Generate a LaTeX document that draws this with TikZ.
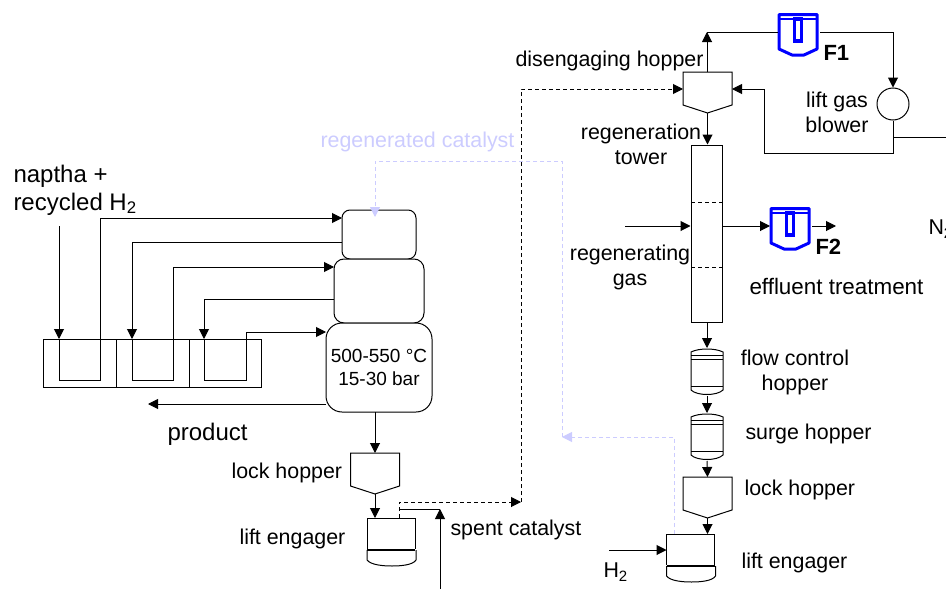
\documentclass[tikz,border=0pt]{standalone}
\usepackage{fontspec}
\setmainfont{Liberation Sans}
\usetikzlibrary{arrows.meta}

\begin{document}
\begin{tikzpicture}[
    x=1pt, y=-1pt,
    line width=1pt,
    flowline/.style={-{Triangle[length=10pt,width=10pt]}},
    spentline/.style={flowline, dash pattern=on 4pt off 3pt},
    regenline/.style={flowline, draw=regenblue, dash pattern=on 4pt off 3pt,
      -{Triangle[length=10pt,width=10pt,fill=regenblue]}},
    label/.style={font=\fontsize{21.4}{25}\selectfont, inner sep=0pt, align=center},
    feedlabel/.style={font=\fontsize{24}{28}\selectfont, inner sep=0pt, anchor=west},
    boldlabel/.style={font=\fontsize{22}{25}\selectfont\bfseries, inner sep=0pt, anchor=west},
    reactor/.style={draw, inner sep=0pt, outer sep=0pt, fill=white},
    pics/lockhopper/.style={code={
      \draw (-24.5,0) -- (24.5,0) -- (24.5,33) -- (0,41) -- (-24.5,33) -- cycle;
      \coordinate (-top) at (0,0);
      \coordinate (-tip) at (0,41);
      \coordinate (-left) at (-24.5,17);
      \coordinate (-right) at (24.5,17);
    }},
    pics/liftengager/.style={code={
      \draw (-24,31) -- (-24,0) -- (24,0) -- (24,31);
      \draw[line width=2pt] (-24,31.5) -- (24,31.5);
      \draw (-24,32) -- (-24,42) .. controls (-20,47) and (-8,48) .. (1,48)
        .. controls (10,48) and (22,47) .. (25,42) -- (25,32);
      \coordinate (-top) at (0,0);
      \coordinate (-left) at (-24,16);
    }},
    pics/vessel/.style={code={
      \draw (-16,4) .. controls (-8,0) and (8,0) .. (16,4) -- (16,42)
        .. controls (10,48) and (-10,48) .. (-16,42) -- cycle;
      \draw (-16,7) -- (16,7);
      \draw (-16,11) -- (16,11);
      \draw (-16,38) -- (16,38);
      \coordinate (-top) at (0,0);
      \coordinate (-bottom) at (0,48);
    }},
    pics/filterunit/.style={code={
      \draw[draw=filterblue, line width=3pt, line join=round]
        (-19,1.5) -- (19,1.5) -- (19,36) -- (6,42) -- (-6,42) -- (-19,36) -- cycle;
      \draw[draw=filterblue, line width=2pt] (-18,6) -- (18,6);
      \draw[draw=filterblue, line width=3.5pt] (-3.5,6) rectangle (3.5,28);
      \coordinate (-left) at (-20,19);
      \coordinate (-right) at (22,19);
    }}
  ]
    \definecolor{regenblue}{RGB}{204,204,255}
    \definecolor{filterblue}{RGB}{0,0,255}
    \useasboundingbox (0,0) rectangle (946,589);

    % Define the reactor stack
    \node[reactor, rounded corners=8pt, minimum width=74pt, minimum height=49pt] (reactorA) at (379,234.5) {};
    \node[reactor, rounded corners=10pt, minimum width=90pt, minimum height=64pt] (reactorB) at (379,291) {};
    \node[reactor, rounded corners=16pt, minimum width=106pt, minimum height=89pt, font=\fontsize{19}{23}\selectfont, align=center] (reactorC) at (379,367.5) {500-550 °C\\15-30 bar};

    % Define the furnace cells
    \node[draw, inner sep=0pt, minimum width=73pt, minimum height=48pt] (cellA) at (79.5,363) {};
    \node[draw, inner sep=0pt, minimum width=73pt, minimum height=48pt] (cellB) at (152.5,363) {};
    \node[draw, inner sep=0pt, minimum width=72pt, minimum height=48pt] (cellC) at (225,363) {};

    % Define the turning points of the coils
    \coordinate (feed) at (59,226);
    \coordinate (coilA) at (59,380);
    \coordinate (coilAb) at (100,380);
    \coordinate (coilAc) at (100,218);
    \coordinate (inA) at (reactorA.west |- coilAc);
    \coordinate (outA) at (342,242);
    \coordinate (coilB) at (132,242);
    \coordinate (coilBb) at (132,380);
    \coordinate (coilBc) at (173,380);
    \coordinate (coilBd) at (173,267);
    \coordinate (inB) at (reactorB.west |- coilBd);
    \coordinate (outB) at (334,299);
    \coordinate (coilC) at (204,299);
    \coordinate (coilCb) at (204,380);
    \coordinate (coilCc) at (246,380);
    \coordinate (coilCd) at (246,332);
    \coordinate (inC) at (326,332);
    \coordinate (prodA) at (326,404);
    \coordinate (prodB) at (148,404);

    % Draw the coils
    \draw[flowline] (feed) -- (59,339);
    \draw (59,339) -- (coilA) -- (coilAb) -- (coilAc);
    \draw[flowline] (coilAc) -- (inA);
    \draw[flowline] (outA) -- (coilB) -- (132,339);
    \draw (132,339) -- (coilBb) -- (coilBc) -- (coilBd);
    \draw[flowline] (coilBd) -- (inB);
    \draw[flowline] (outB) -- (coilC) -- (204,339);
    \draw (204,339) -- (coilCb) -- (coilCc) -- (coilCd);
    \draw[flowline] (coilCd) -- (inC);
    \draw[flowline] (prodA) -- (prodB);

    % Draw the left lift train
    \pic (lockA) at (375,453) {lockhopper};
    \pic (engageA) at (391,518) {liftengager};
    \draw[flowline] (reactorC.south -| lockA-top) -- (lockA-top);
    \draw[flowline] (lockA-tip) -- (375,518);

    % Draw the right column
    \pic (disengage) at (707.5,72) {lockhopper};
    \node[draw, inner sep=0pt, minimum width=31pt, minimum height=177pt] (tower) at (706.5,233.5) {};
    \pic (flowhopper) at (707,348) {vessel};
    \pic (surge) at (707,413) {vessel};
    \pic (lockB) at (707.5,477) {lockhopper};
    \pic (engageB) at (690.5,534) {liftengager};
    \node[draw, circle, inner sep=0pt, minimum size=32pt] (blower) at (893,104) {};
    \pic (filterA) at (798,13) {filterunit};
    \pic (filterB) at (790,207) {filterunit};

    \coordinate (dashA) at (691,202);
    \coordinate (dashB) at (691,267);
    \draw[dash pattern=on 4pt off 3pt] (dashA) -- (dashA -| tower.east);
    \draw[dash pattern=on 4pt off 3pt] (dashB) -- (dashB -| tower.east);

    \draw[flowline] (disengage-tip) -- (disengage-tip |- tower.north);
    \draw[flowline] (tower.south -| flowhopper-top) -- (flowhopper-top);
    \draw[flowline] (flowhopper-bottom) -- (surge-top);
    \draw[flowline] (surge-bottom) -- (lockB-top);
    \draw[flowline] (lockB-tip) -- (lockB-tip |- engageB-top);

    % Draw the gas loop around the blower
    \coordinate (loopA) at (707,32);
    \coordinate (loopB) at (893,32);
    \coordinate (loopC) at (893,153);
    \coordinate (loopD) at (764,153);
    \coordinate (loopE) at (764,89);
    \coordinate (nitrogen) at (946,137);
    \draw[flowline] (disengage-top -| loopA) -- (loopA);
    \draw (loopA) -- (filterA-left);
    \draw[flowline] (filterA-right) -- (loopB) -- (blower.north);
    \draw (blower.south) -- (loopC) -- (loopD) -- (loopE);
    \draw[flowline] (loopE) -- (disengage-right);
    \draw (893,137) -- (nitrogen);

    % Draw the gas lines at the tower
    \coordinate (regenIn) at (625,226);
    \coordinate (effluent) at (836,226);
    \draw[flowline] (regenIn) -- (tower.west |- regenIn);
    \draw[flowline] (tower.east |- regenIn) -- (filterB-left);
    \draw[flowline] (filterB-right) -- (effluent);
    \coordinate (hydrogen) at (609,550);
    \draw[flowline] (hydrogen) -- (engageB-left);

    % Draw the spent catalyst lines
    \coordinate (spentA) at (399,518);
    \coordinate (spentB) at (399,502);
    \coordinate (spentC) at (521,502);
    \coordinate (spentD) at (521,89);
    \draw[spentline] (spentA) -- (spentB) -- (spentC);
    \draw[spentline] (spentC) -- (spentD) -- (disengage-left |- spentD);
    \coordinate (liftIn) at (440,589);
    \coordinate (liftOut) at (440,509);
    \coordinate (liftStart) at (400,509);
    \draw[flowline] (liftIn) -- (liftOut);
    \draw (liftStart) -- (liftOut);

    % Draw the regenerated catalyst line
    \coordinate (regenA) at (674,534);
    \coordinate (regenB) at (674,437);
    \coordinate (regenC) at (562,437);
    \coordinate (regenD) at (562,161);
    \coordinate (regenE) at (375,161);
    \coordinate (regenF) at (375,217);
    \draw[regenline] (regenA) -- (regenB) -- (regenC);
    \draw[regenline] (regenC) -- (regenD) -- (regenE) -- (regenF);

    % Labels
    \node[feedlabel] (feedtext) at (13,176) {naptha +};
    \node[feedlabel] (feedtextb) at (13,204) {recycled H\textsubscript{2}};
    \node[feedlabel] (producttext) at (167,434) {product};
    \node[label, anchor=west] (lockAtext) at (231,473) {lock hopper};
    \node[label, anchor=west] (engageAtext) at (239,539) {lift engager};
    \node[label, anchor=west] (spenttext) at (450,530) {spent catalyst};
    \node[label, anchor=west, text=regenblue] (regentext) at (320,142) {regenerated catalyst};
    \node[label, anchor=west] (disengagetext) at (515,61) {disengaging hopper};
    \node[label] (towertext) at (641,144) {regeneration\\tower};
    \node[label] (gastext) at (630,267.5) {regenerating\\gas};
    \node[label] (blowertext) at (837,112) {lift gas\\blower};
    \node[boldlabel] (filterAtext) at (823,53) {F1};
    \node[boldlabel] (filterBtext) at (815,247) {F2};
    \node[label, anchor=west, font=\fontsize{22.4}{25}\selectfont] (effluenttext) at (749,286) {effluent treatment};
    \node[label] (flowtext) at (795,372) {flow control\\hopper};
    \node[label, anchor=west] (surgetext) at (745,434) {surge hopper};
    \node[label, anchor=west] (lockBtext) at (744,490) {lock hopper};
    \node[label, anchor=west] (engageBtext) at (741,563) {lift engager};
    \node[label, anchor=west] (hydrogentext) at (603,572) {H\textsubscript{2}};
    \node[label, anchor=west] (nitrogentext) at (928,229) {N\textsubscript{2}};
\end{tikzpicture}
\end{document}
